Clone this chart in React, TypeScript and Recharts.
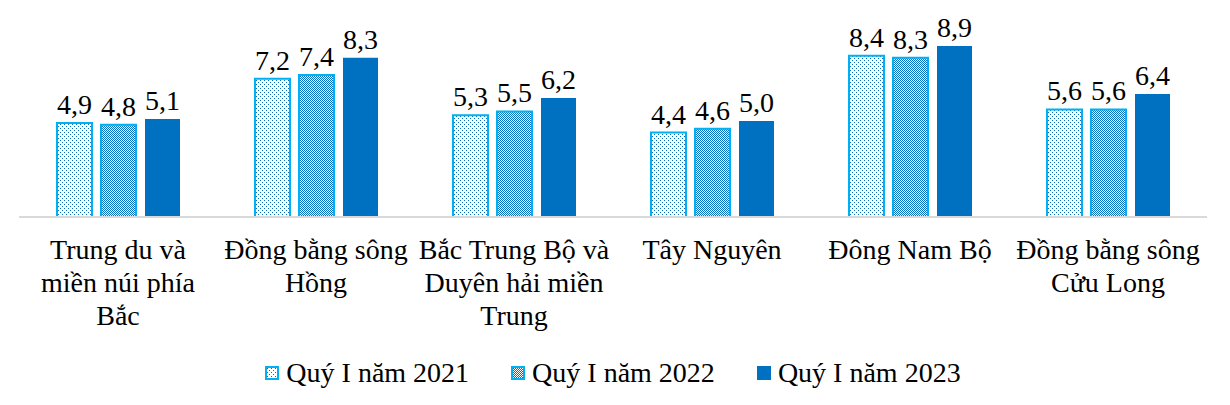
import React from 'react';
import { BarChart, Bar, XAxis, YAxis, LabelList, Legend } from 'recharts';

const categories = [
    ['Trung du và', 'miền núi phía', 'Bắc'],
    ['Đồng bằng sông', 'Hồng'],
    ['Bắc Trung Bộ và', 'Duyên hải miền', 'Trung'],
    ['Tây Nguyên'],
    ['Đông Nam Bộ'],
    ['Đồng bằng sông', 'Cửu Long'],
];
const q2021 = [4.9, 7.2, 5.3, 4.4, 8.4, 5.6];
const q2022 = [4.8, 7.4, 5.5, 4.6, 8.3, 5.6];
const q2023 = [5.1, 8.3, 6.2, 5.0, 8.9, 6.4];

const SERIES = [
    { key: 'q2021', name: 'Quý I năm 2021', fill: 'url(#dotsSparse)', stroke: '#00B0F0' },
    { key: 'q2022', name: 'Quý I năm 2022', fill: 'url(#dotsDense)', stroke: '#00B0F0' },
    { key: 'q2023', name: 'Quý I năm 2023', fill: '#0070C0', stroke: 'none' },
];

const data = categories.map((lines, i) => ({
    name: lines.join(' '),
    q2021: q2021[i],
    q2022: q2022[i],
    q2023: q2023[i],
}));

const FONT = '"Liberation Serif", "Times New Roman", serif';
const FS = 28;
const fmt = (v: any) => Number(v).toFixed(1).replace('.', ',');

function Patterns() {
    return (
        <defs>
            <pattern id="dotsSparse" width="4" height="4" patternUnits="userSpaceOnUse">
                <rect width="4" height="4" fill="#fff" />
                <rect x="0" y="0" width="1" height="1" fill="#0070C0" />
                <rect x="2" y="2" width="1" height="1" fill="#0070C0" />
            </pattern>
            <pattern id="dotsDense" width="2" height="2" patternUnits="userSpaceOnUse">
                <rect width="2" height="2" fill="#fff" />
                <rect x="0" y="0" width="1" height="1" fill="#0070C0" />
                <rect x="1" y="1" width="1" height="1" fill="#0070C0" />
            </pattern>
        </defs>
    );
}

function CategoryTick({ x, y, payload }: any) {
    const lines = categories[payload.index] ?? [payload.value];
    return (
        <text x={x} y={y} textAnchor="middle" fontFamily={FONT} fontSize={FS} fill="#000">
            {lines.map((l, i) => (
                <tspan key={i} x={x} dy={i === 0 ? 34 : 33}>{l}</tspan>
            ))}
        </text>
    );
}

function LegendContent() {
    return (
        <div style={{ display: 'flex', justifyContent: 'center', gap: 42, fontFamily: FONT, fontSize: FS, lineHeight: '32px', color: '#000' }}>
            {SERIES.map(s => (
                <div key={s.key} style={{ display: 'flex', alignItems: 'center', gap: 7 }}>
                    <svg width={14} height={14}>
                        {s.stroke === 'none'
                            ? <rect x={0} y={0} width={14} height={14} fill={s.fill} />
                            : <rect x={1} y={1} width={12} height={12} fill={s.fill} stroke={s.stroke} strokeWidth={2} />}
                    </svg>
                    <span>{s.name}</span>
                </div>
            ))}
        </div>
    );
}

export default function App() {
    return (
        <div style={{ margin: -8, width: 1230, height: 405, background: '#fff' }}>
            <BarChart width={1230} height={405} data={data}
                margin={{ top: 25, right: 23, left: 19, bottom: 0 }}
                barSize={35} barGap={9}>
                <Patterns />
                <XAxis dataKey="name" interval={0} height={156} tick={<CategoryTick />}
                    axisLine={{ stroke: '#D9D9D9', strokeWidth: 2 }} tickLine={false} />
                <YAxis hide domain={[0, 10]} />
                <Legend verticalAlign="bottom" content={<LegendContent />}
                    wrapperStyle={{ top: 357, height: 32 }} />
                {SERIES.map(s => (
                    <Bar key={s.key} dataKey={s.key} name={s.name} fill={s.fill}
                        stroke={s.stroke} strokeWidth={s.stroke === 'none' ? 0 : 2}
                        isAnimationActive={false}>
                        <LabelList dataKey={s.key} position="top" offset={9} formatter={fmt}
                            style={{ fontFamily: FONT, fontSize: FS, fill: '#000' }} />
                    </Bar>
                ))}
            </BarChart>
        </div>
    );
}
